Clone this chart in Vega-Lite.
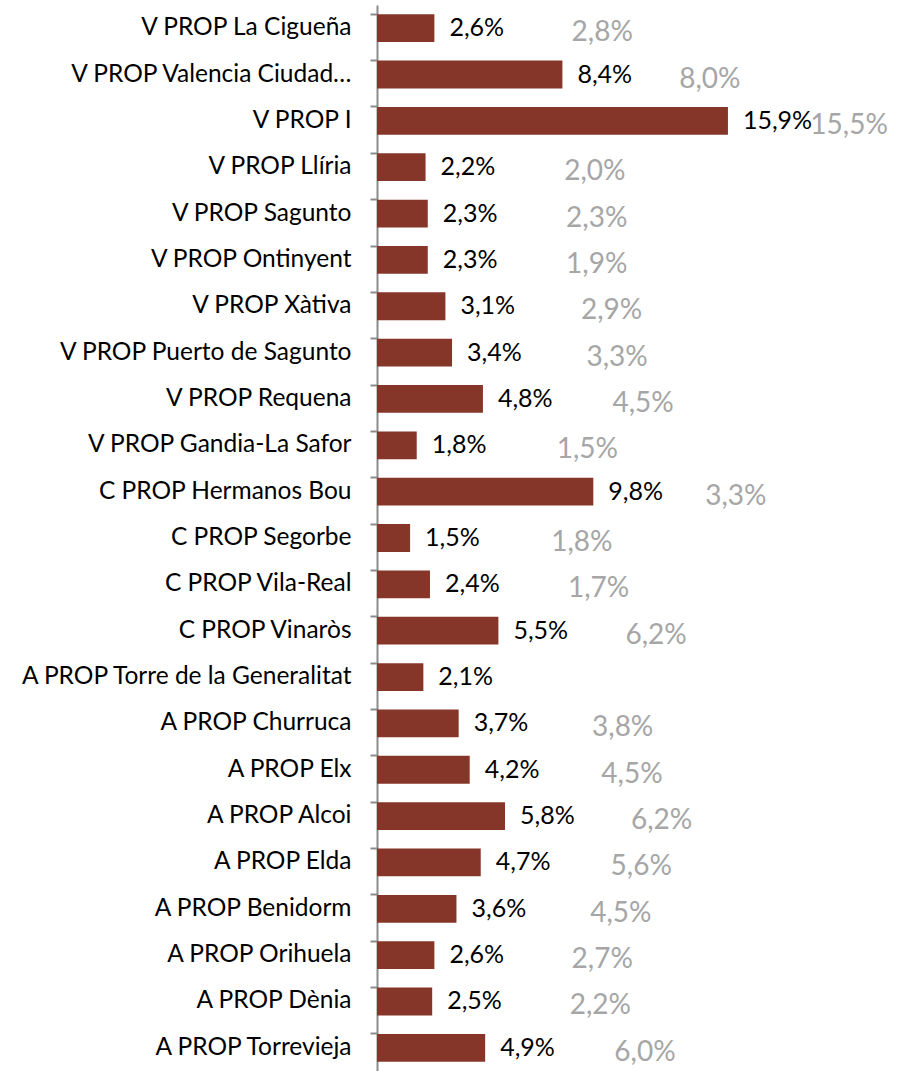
{
  "$schema": "https://vega.github.io/schema/vega-lite/v6.json",
  "autosize": "none",
  "padding": {"left": 377, "top": 5, "right": 0, "bottom": 0},
  "width": 539,
  "height": 1066,
  "config": {
    "locale": {"number": {"decimal": ",", "thousands": ".", "grouping": [3], "currency": ["", " €"]}},
    "view": {"stroke": null},
    "font": "Lato"
  },
  "data": {
    "values": [
      {"name": "V PROP La Cigueña", "cur": 0.026, "prev": 0.028},
      {"name": "V PROP Valencia Ciudad…", "cur": 0.084, "prev": 0.080},
      {"name": "V PROP I", "cur": 0.159, "prev": 0.155},
      {"name": "V PROP  Llíria", "cur": 0.022, "prev": 0.020},
      {"name": "V PROP Sagunto", "cur": 0.023, "prev": 0.023},
      {"name": "V PROP Ontinyent", "cur": 0.023, "prev": 0.019},
      {"name": "V PROP Xàtiva", "cur": 0.031, "prev": 0.029},
      {"name": "V PROP Puerto de Sagunto", "cur": 0.034, "prev": 0.033},
      {"name": "V PROP Requena", "cur": 0.048, "prev": 0.045},
      {"name": "V PROP Gandia-La Safor", "cur": 0.018, "prev": 0.015},
      {"name": "C PROP Hermanos Bou", "cur": 0.098, "prev": 0.033},
      {"name": "C PROP Segorbe", "cur": 0.015, "prev": 0.018},
      {"name": "C PROP Vila-Real", "cur": 0.024, "prev": 0.017},
      {"name": "C PROP Vinaròs", "cur": 0.055, "prev": 0.062},
      {"name": "A PROP Torre de la Generalitat", "cur": 0.021, "prev": null},
      {"name": "A PROP Churruca", "cur": 0.037, "prev": 0.038},
      {"name": "A PROP Elx", "cur": 0.042, "prev": 0.045},
      {"name": "A PROP Alcoi", "cur": 0.058, "prev": 0.062},
      {"name": "A PROP Elda", "cur": 0.047, "prev": 0.056},
      {"name": "A PROP Benidorm", "cur": 0.036, "prev": 0.045},
      {"name": "A PROP Orihuela", "cur": 0.026, "prev": 0.027},
      {"name": "A PROP Dènia", "cur": 0.025, "prev": 0.022},
      {"name": "A PROP Torrevieja", "cur": 0.049, "prev": 0.060}
    ]
  },
  "encoding": {
    "y": {
      "field": "name", "type": "nominal", "sort": null,
      "scale": {"paddingInner": 0.4, "paddingOuter": 0.2},
      "axis": {
        "title": null,
        "domainColor": "#8C8C8C", "domainWidth": 2,
        "tickColor": "#8C8C8C", "tickWidth": 2, "tickSize": 7, "bandPosition": 0,
        "labelFont": "Lato", "labelFontSize": 24.5, "labelColor": "#000000",
        "labelPadding": 19, "labelLimit": 400
      }
    }
  },
  "layer": [
    {
      "encoding": {
        "x": {
          "field": "cur", "type": "quantitative",
          "scale": {"domain": [0, 0.2442], "nice": false, "zero": true},
          "axis": null
        }
      },
      "layer": [
        {"mark": {"type": "bar", "color": "#863628"}},
        {
          "mark": {"type": "text", "align": "left", "baseline": "middle", "dx": 15, "fontSize": 25, "color": "#000000"},
          "encoding": {"text": {"field": "cur", "type": "quantitative", "format": ".1%"}}
        }
      ]
    },
    {
      "transform": [{"filter": "datum.prev != null"}],
      "mark": {"type": "text", "align": "center", "baseline": "middle", "dx": 177, "dy": 5, "fontSize": 28, "color": "#A6A6A6"},
      "encoding": {
        "x": {
          "field": "cur", "type": "quantitative",
          "scale": {"domain": [0, 0.2904], "nice": false, "zero": true},
          "axis": null
        },
        "text": {"field": "prev", "type": "quantitative", "format": ".1%"}
      }
    }
  ],
  "resolve": {"scale": {"x": "independent"}}
}
